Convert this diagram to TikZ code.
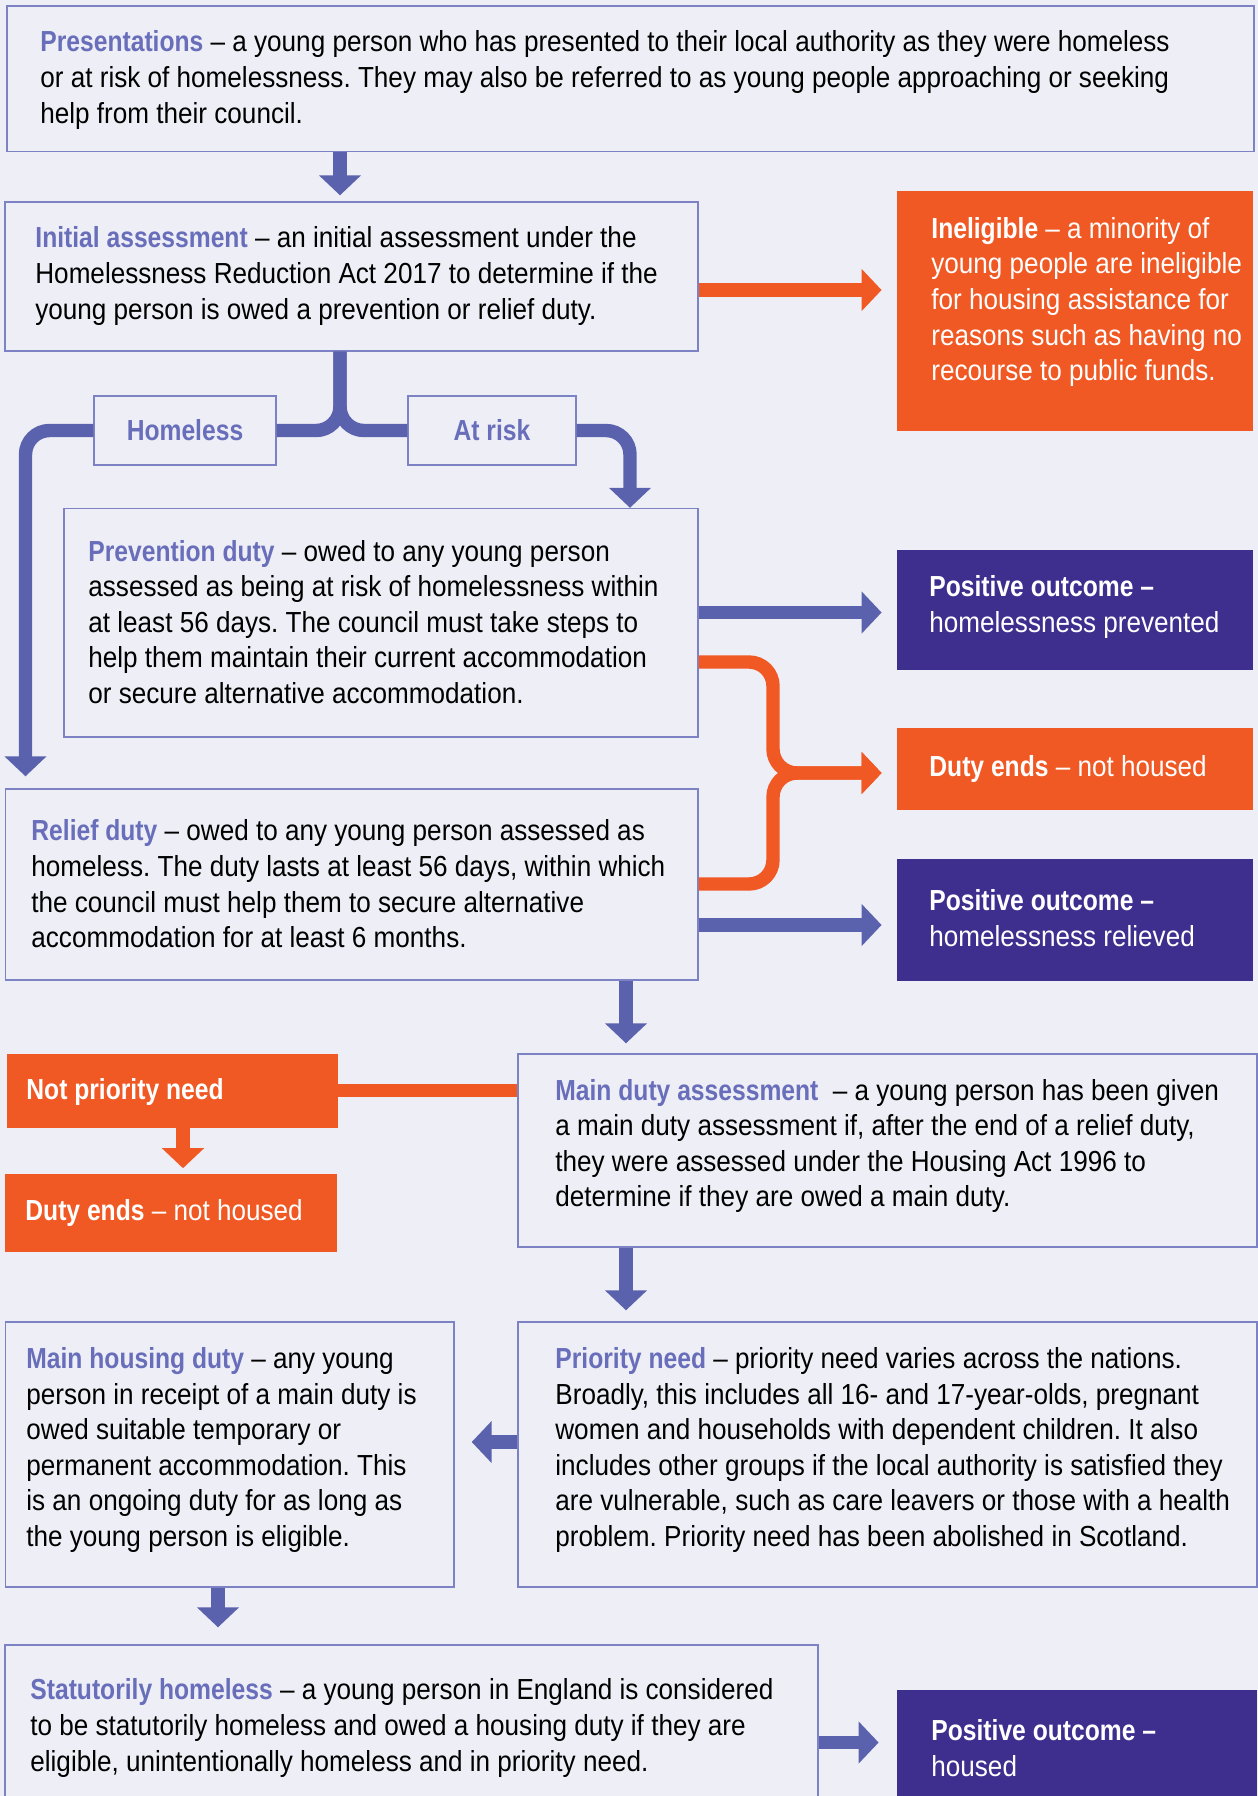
\documentclass[tikz,border=0pt]{standalone}
\usepackage{fontspec}
\setmainfont{Liberation Sans}[FakeStretch=0.90,BoldFeatures={FakeStretch=0.85}]
\usepackage{tikz}
\usetikzlibrary{arrows.meta,fit}

\definecolor{paper}{RGB}{238,238,246}
\definecolor{edgeblue}{RGB}{125,130,196}
\definecolor{linkblue}{RGB}{91,98,173}
\definecolor{headblue}{RGB}{104,110,186}
\definecolor{warnorange}{RGB}{240,88,36}
\definecolor{goodpurple}{RGB}{62,46,142}

\newcommand{\bodysize}{\fontsize{14.5}{17.8}\selectfont\frenchspacing}
\newcommand{\headword}[1]{{\bfseries\color{headblue}#1}}

\begin{document}
\begin{tikzpicture}[x=0.5pt,y=-0.5pt,
    panel/.style={draw=edgeblue,line width=0.7pt,inner sep=0pt},
    tile/.style={fill=#1,inner sep=0pt},
    tag/.style={panel,minimum height=34.5pt,font=\bodysize\bfseries,text=headblue},
    words/.style={anchor=west,align=left,inner sep=0pt,font=\bodysize},
    pale/.style={words,text=white},
    bluelink/.style={linkblue,line width=6.7pt},
    orangelink/.style={warnorange,line width=6.7pt},
    bluearrow/.style={bluelink,-{Triangle[width=20.5pt,length=10pt]}},
    orangearrow/.style={orangelink,-{Triangle[width=20.5pt,length=10pt]}}]
  \useasboundingbox (0,0) rectangle (1258,1796);
  \fill[paper] (0,0) rectangle (1258,1796);
  \clip (0,0) rectangle (1258,1796);

  % boxes
  \node[panel,fit={(7,6) (1254,151.5)}] (pres) {};
  \node[panel,fit={(5,202) (698,351)}] (init) {};
  \node[tile=warnorange,fit={(897,191) (1253,431)}] (inel) {};
  \node[tag,minimum width=91pt] (home) at (185,430.5) {Homeless};
  \node[tag,minimum width=84pt] (risk) at (492,430.5) {At risk};
  \node[panel,fit={(64,508.5) (698,737)}] (prev) {};
  \node[tile=goodpurple,fit={(897,550) (1253,670)}] (okprev) {};
  \node[tile=warnorange,fit={(897,728) (1253,810)}] (endsR) {};
  \node[panel,fit={(5.5,789) (698,980)}] (relief) {};
  \node[tile=goodpurple,fit={(897,859) (1253,981)}] (okrel) {};
  \node[tile=warnorange,fit={(7,1054) (338,1127.5)}] (notprio) {};
  \node[tile=warnorange,fit={(5,1174) (337,1252)}] (endsL) {};
  \node[panel,fit={(518,1054) (1257,1247)}] (main) {};
  \node[panel,fit={(5.5,1322) (454,1587)}] (mhd) {};
  \node[panel,fit={(518,1322) (1257,1587)}] (prio) {};
  \node[panel,fit={(5,1645) (818,1815)}] (stat) {};
  \node[tile=goodpurple,fit={(897,1690) (1257,1815)}] (housed) {};

  % texts
  \node[words] (presT) at (40,80) {\headword{Presentations} – a young person who has presented to their local authority as they were homeless\\
    or at risk of homelessness. They may also be referred to as young people approaching or seeking\\
    help from their council.};
  \node[words] (initT) at (35,276) {\headword{Initial assessment} – an initial assessment under the\\
    Homelessness Reduction Act 2017 to determine if the\\
    young person is owed a prevention or relief duty.};
  \node[pale] (inelT) at (931,302) {\textbf{Ineligible} – a minority of\\
    young people are ineligible\\
    for housing assistance for\\
    reasons such as having no\\
    recourse to public funds.};
  \node[words] (prevT) at (88,622) {\headword{Prevention duty} – owed to any young person\\
    assessed as being at risk of homelessness within\\
    at least 56 days. The council must take steps to\\
    help them maintain their current accommodation\\
    or secure alternative accommodation.};
  \node[pale] (okprevT) at (929,607) {\textbf{Positive outcome –}\\homelessness prevented};
  \node[pale] (endsRT) at (929,769) {\textbf{Duty ends} – not housed};
  \node[words] (reliefT) at (31,884) {\headword{Relief duty} – owed to any young person assessed as\\
    homeless. The duty lasts at least 56 days, within which\\
    the council must help them to secure alternative\\
    accommodation for at least 6 months.};
  \node[pale] (okrelT) at (929,918) {\textbf{Positive outcome –}\\homelessness relieved};
  \node[pale,font=\bodysize\bfseries] (notprioT) at (26,1092) {Not priority need};
  \node[pale] (endsLT) at (25,1213) {\textbf{Duty ends} – not housed};
  \node[words] (mainT) at (555,1146) {\headword{Main duty assessment}\ \ – a young person has been given\\
    a main duty assessment if, after the end of a relief duty,\\
    they were assessed under the Housing Act 1996 to\\
    determine if they are owed a main duty.};
  \node[words] (mhdT) at (26,1450) {\headword{Main housing duty} – any young\\
    person in receipt of a main duty is\\
    owed suitable temporary or\\
    permanent accommodation. This\\
    is an ongoing duty for as long as\\
    the young person is eligible.};
  \node[words] (prioT) at (555,1450) {\headword{Priority need} – priority need varies across the nations.\\
    Broadly, this includes all 16- and 17-year-olds, pregnant\\
    women and households with dependent children. It also\\
    includes other groups if the local authority is satisfied they\\
    are vulnerable, such as care leavers or those with a health\\
    problem. Priority need has been abolished in Scotland.};
  \node[words] (statT) at (30,1728) {\headword{Statutorily homeless} – a young person in England is considered\\
    to be statutorily homeless and owed a housing duty if they are\\
    eligible, unintentionally homeless and in priority need.};
  \node[pale] (housedT) at (931,1748) {\textbf{Positive outcome –}\\housed};

  % connectors
  \draw[bluearrow,shorten >=3pt] (pres.south -| 340,0) -- (init.north -| 340,0);
  \draw[orangearrow,shorten >=7.5pt] (init.east |- 0,290) -- (inel.west |- 0,290);
  \draw[bluelink,rounded corners=12pt] (init.south -| 340,0) |- (home.east);
  \draw[bluelink,rounded corners=12pt] (init.south -| 340,0) |- (risk.west);
  \draw[bluearrow,rounded corners=12pt,shorten >=6pt] (home.west) -| (relief.north -| 25.5,0);
  \draw[bluearrow,rounded corners=12pt] (risk.east) -| (prev.north -| 630,0);
  \draw[bluearrow,shorten >=7.5pt] (prev.east |- 0,612.5) -- (okprev.west |- 0,612.5);
  \draw[orangearrow,rounded corners=12pt,shorten >=7.5pt] (prev.east |- 0,662) -| (773,773) -- (endsR.west |- 0,773);
  \draw[orangearrow,rounded corners=12pt,shorten >=7.5pt] (relief.east |- 0,884) -| (773,773) -- (endsR.west |- 0,773);
  \draw[bluearrow,shorten >=7.5pt] (relief.east |- 0,925) -- (okrel.west |- 0,925);
  \draw[bluearrow,shorten >=5pt] (relief.south -| 626,0) -- (main.north -| 626,0);
  \draw[orangelink] (main.west |- notprio.east) -- (notprio.east);
  \draw[orangearrow,shorten >=2.7pt] (notprio.south -| 183,0) -- (endsL.north -| 183,0);
  \draw[bluearrow,shorten >=5.5pt] (main.south -| 626,0) -- (prio.north -| 626,0);
  \draw[bluearrow,shorten >=8.5pt] (prio.west |- 0,1442) -- (mhd.east |- 0,1442);
  \draw[bluearrow,shorten >=8.5pt] (mhd.south -| 218,0) -- (stat.north -| 218,0);
  \draw[bluearrow,shorten >=9pt] (stat.east |- 0,1742.5) -- (housed.west |- 0,1742.5);
\end{tikzpicture}
\end{document}
